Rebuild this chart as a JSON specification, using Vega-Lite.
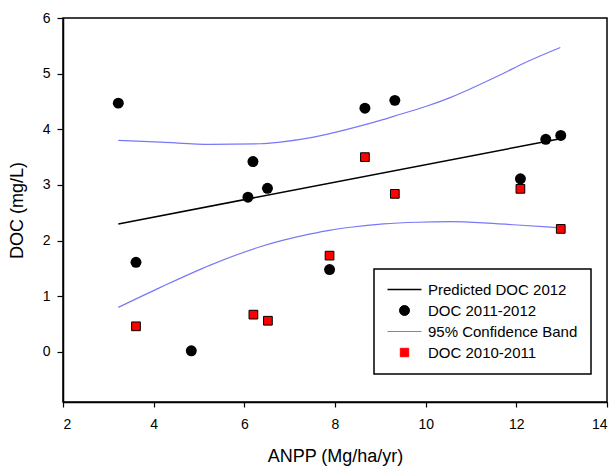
{
  "$schema": "https://vega.github.io/schema/vega-lite/v6.json",
  "width": 544,
  "height": 384,
  "autosize": "none",
  "padding": {"left": 63, "top": 18, "right": 7, "bottom": 64},
  "background": "white",
  "config": {
    "font": "Liberation Sans",
    "view": {"stroke": "black", "strokeWidth": 1.5},
    "axis": {
      "grid": false,
      "domainColor": "black",
      "domainWidth": 1.5,
      "tickColor": "black",
      "tickWidth": 1.2,
      "labelColor": "black",
      "labelFont": "Liberation Sans",
      "labelFontSize": 14,
      "titleColor": "black",
      "titleFont": "Liberation Sans",
      "titleFontSize": 18,
      "titleFontWeight": "normal"
    }
  },
  "datasets": {
    "points": [
      {"anpp": 3.22, "doc": 4.47, "series": "DOC 2011-2012"},
      {"anpp": 3.61, "doc": 1.61, "series": "DOC 2011-2012"},
      {"anpp": 4.83, "doc": 0.02, "series": "DOC 2011-2012"},
      {"anpp": 6.08, "doc": 2.78, "series": "DOC 2011-2012"},
      {"anpp": 6.19, "doc": 3.42, "series": "DOC 2011-2012"},
      {"anpp": 6.51, "doc": 2.94, "series": "DOC 2011-2012"},
      {"anpp": 7.88, "doc": 1.48, "series": "DOC 2011-2012"},
      {"anpp": 8.66, "doc": 4.38, "series": "DOC 2011-2012"},
      {"anpp": 9.32, "doc": 4.52, "series": "DOC 2011-2012"},
      {"anpp": 12.09, "doc": 3.11, "series": "DOC 2011-2012"},
      {"anpp": 12.65, "doc": 3.82, "series": "DOC 2011-2012"},
      {"anpp": 12.98, "doc": 3.89, "series": "DOC 2011-2012"},
      {"anpp": 3.61, "doc": 0.46, "series": "DOC 2010-2011"},
      {"anpp": 6.2, "doc": 0.67, "series": "DOC 2010-2011"},
      {"anpp": 6.52, "doc": 0.56, "series": "DOC 2010-2011"},
      {"anpp": 7.88, "doc": 1.73, "series": "DOC 2010-2011"},
      {"anpp": 8.66, "doc": 3.5, "series": "DOC 2010-2011"},
      {"anpp": 9.32, "doc": 2.84, "series": "DOC 2010-2011"},
      {"anpp": 12.09, "doc": 2.93, "series": "DOC 2010-2011"},
      {"anpp": 12.98, "doc": 2.21, "series": "DOC 2010-2011"}
    ],
    "curves": [
      {"anpp": 3.22, "doc": 2.3, "series": "Predicted DOC 2012", "side": "fit"},
      {"anpp": 12.97, "doc": 3.83, "series": "Predicted DOC 2012", "side": "fit"},
      {"anpp": 3.22, "doc": 3.8, "series": "95% Confidence Band", "side": "upper"},
      {"anpp": 4.15, "doc": 3.77, "series": "95% Confidence Band", "side": "upper"},
      {"anpp": 5.25, "doc": 3.73, "series": "95% Confidence Band", "side": "upper"},
      {"anpp": 6.35, "doc": 3.74, "series": "95% Confidence Band", "side": "upper"},
      {"anpp": 6.79, "doc": 3.77, "series": "95% Confidence Band", "side": "upper"},
      {"anpp": 7.53, "doc": 3.86, "series": "95% Confidence Band", "side": "upper"},
      {"anpp": 8.27, "doc": 4.0, "series": "95% Confidence Band", "side": "upper"},
      {"anpp": 9.0, "doc": 4.16, "series": "95% Confidence Band", "side": "upper"},
      {"anpp": 9.44, "doc": 4.27, "series": "95% Confidence Band", "side": "upper"},
      {"anpp": 10.0, "doc": 4.41, "series": "95% Confidence Band", "side": "upper"},
      {"anpp": 10.54, "doc": 4.57, "series": "95% Confidence Band", "side": "upper"},
      {"anpp": 11.1, "doc": 4.77, "series": "95% Confidence Band", "side": "upper"},
      {"anpp": 11.65, "doc": 4.98, "series": "95% Confidence Band", "side": "upper"},
      {"anpp": 12.2, "doc": 5.2, "series": "95% Confidence Band", "side": "upper"},
      {"anpp": 12.97, "doc": 5.47, "series": "95% Confidence Band", "side": "upper"},
      {"anpp": 3.22, "doc": 0.8, "series": "95% Confidence Band", "side": "lower"},
      {"anpp": 4.15, "doc": 1.16, "series": "95% Confidence Band", "side": "lower"},
      {"anpp": 5.25, "doc": 1.56, "series": "95% Confidence Band", "side": "lower"},
      {"anpp": 6.35, "doc": 1.89, "series": "95% Confidence Band", "side": "lower"},
      {"anpp": 7.46, "doc": 2.12, "series": "95% Confidence Band", "side": "lower"},
      {"anpp": 7.9, "doc": 2.19, "series": "95% Confidence Band", "side": "lower"},
      {"anpp": 8.34, "doc": 2.24, "series": "95% Confidence Band", "side": "lower"},
      {"anpp": 9.07, "doc": 2.3, "series": "95% Confidence Band", "side": "lower"},
      {"anpp": 9.81, "doc": 2.33, "series": "95% Confidence Band", "side": "lower"},
      {"anpp": 10.54, "doc": 2.34, "series": "95% Confidence Band", "side": "lower"},
      {"anpp": 11.28, "doc": 2.32, "series": "95% Confidence Band", "side": "lower"},
      {"anpp": 12.02, "doc": 2.28, "series": "95% Confidence Band", "side": "lower"},
      {"anpp": 12.97, "doc": 2.23, "series": "95% Confidence Band", "side": "lower"}
    ]
  },
  "encoding": {
    "x": {
      "field": "anpp",
      "type": "quantitative",
      "title": "ANPP (Mg/ha/yr)",
      "scale": {"domain": [2, 14], "nice": false, "zero": false},
      "axis": {"values": [2, 4, 6, 8, 10, 12, 14], "tickSize": 5, "labelPadding": 10, "titlePadding": 16}
    },
    "y": {
      "field": "doc",
      "type": "quantitative",
      "title": "DOC (mg/L)",
      "scale": {"domain": [-0.9, 6], "nice": false, "zero": false},
      "axis": {"values": [0, 1, 2, 3, 4, 5, 6], "tickSize": 6, "labelPadding": 7, "titlePadding": 16}
    },
    "color": {
      "field": "series",
      "type": "nominal",
      "scale": {
        "domain": ["Predicted DOC 2012", "DOC 2011-2012", "95% Confidence Band", "DOC 2010-2011"],
        "range": ["black", "black", "#7878f8", "#ff0000"]
      },
      "legend": {
        "title": null,
        "orient": "none",
        "legendX": 311,
        "legendY": 251,
        "padding": 13,
        "strokeColor": "black",
        "fillColor": "white",
        "labelFont": "Liberation Sans",
        "labelFontSize": 15,
        "labelColor": "black",
        "labelLimit": 300,
        "symbolSize": 100,
        "symbolOffset": 10,
        "labelOffset": 16,
        "rowPadding": 5,
        "encode": {
          "legend": {"update": {"strokeWidth": {"value": 1.5}}},
          "symbols": {
            "update": {
              "shape": {"signal": "datum.value === 'DOC 2011-2012' ? 'circle' : datum.value === 'DOC 2010-2011' ? 'square' : 'stroke'"},
              "size": {"signal": "datum.value === 'DOC 2011-2012' ? 100 : datum.value === 'DOC 2010-2011' ? 70 : 1156"},
              "fill": {"signal": "datum.value === 'DOC 2011-2012' ? 'black' : datum.value === 'DOC 2010-2011' ? '#ff0000' : 'transparent'"},
              "stroke": {"signal": "datum.value === 'DOC 2011-2012' ? 'transparent' : datum.value === '95% Confidence Band' ? '#7878f8' : 'black'"},
              "strokeWidth": {"signal": "datum.value === 'Predicted DOC 2012' ? 1.5 : 1"},
              "opacity": {"value": 1}
            }
          }
        }
      }
    }
  },
  "layer": [
    {
      "data": {"name": "curves"},
      "transform": [{"filter": "datum.side !== 'fit'"}],
      "mark": {"type": "line", "strokeWidth": 1.2, "interpolate": "monotone"},
      "encoding": {"detail": {"field": "side"}}
    },
    {
      "data": {"name": "curves"},
      "transform": [{"filter": "datum.side === 'fit'"}],
      "mark": {"type": "line", "strokeWidth": 1.5}
    },
    {
      "data": {"name": "points"},
      "transform": [{"filter": "datum.series === 'DOC 2011-2012'"}],
      "mark": {"type": "point", "shape": "circle", "filled": true, "size": 120, "opacity": 1}
    },
    {
      "data": {"name": "points"},
      "transform": [{"filter": "datum.series === 'DOC 2010-2011'"}],
      "mark": {"type": "point", "shape": "square", "filled": true, "size": 76, "opacity": 1, "stroke": "black", "strokeWidth": 1}
    }
  ]
}
